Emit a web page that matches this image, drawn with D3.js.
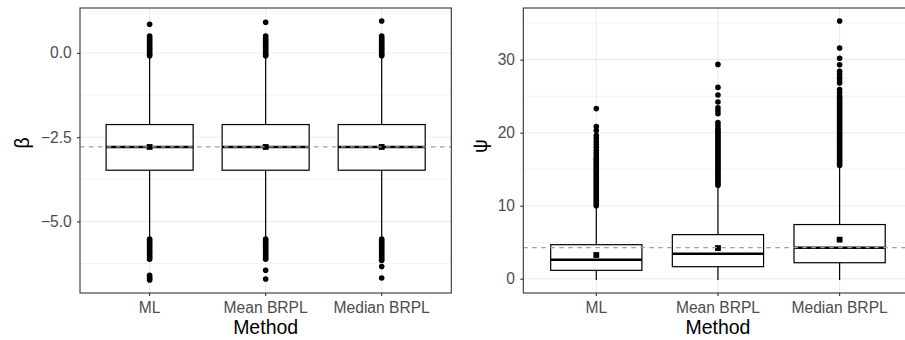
<!DOCTYPE html>
<html>
<head>
<meta charset="utf-8">
<script src="https://cdn.jsdelivr.net/npm/d3@7"></script>
<style>
  body { margin: 0; background: #fff; }
  svg { display: block; font-family: "Liberation Sans", Arial, Helvetica, sans-serif; }
</style>
</head>
<body>
<svg id="chart" width="905" height="340"></svg>
<script>
// Estimation methods compared in both panels
const methods = ["ML", "Mean BRPL", "Median BRPL"];

// beta: five-number box summaries, means and reference value
const betaLowWhisker = [-5.49, -5.49, -5.49];
const betaQ1 = [-3.48, -3.48, -3.48];
const betaMedian = [-2.79, -2.79, -2.79];
const betaQ3 = [-2.125, -2.125, -2.125];
const betaHighWhisker = [-0.1, -0.1, -0.1];
const betaMean = [-2.79, -2.79, -2.79];
const betaTrue = -2.79;

// beta outliers per method
const betaOutML = [0.85, 0.5, 0.45, 0.4, 0.35, 0.3, 0.25, 0.2, 0.15, 0.1, 0.05, 0.0, -0.05, -0.08,
  -5.52, -5.57, -5.62, -5.67, -5.72, -5.77, -5.82, -5.87, -5.92, -5.97, -6.02, -6.07, -6.12,
  -6.6, -6.65, -6.7, -6.74];
const betaOutMean = [0.91, 0.5, 0.45, 0.4, 0.35, 0.3, 0.25, 0.2, 0.15, 0.1, 0.05, 0.0, -0.05, -0.08,
  -5.52, -5.57, -5.62, -5.67, -5.72, -5.77, -5.82, -5.87, -5.92, -5.97, -6.02, -6.07, -6.12,
  -6.45, -6.71];
const betaOutMedian = [0.95, 0.5, 0.45, 0.4, 0.35, 0.3, 0.25, 0.2, 0.15, 0.1, 0.05, 0.0, -0.05, -0.08,
  -5.52, -5.57, -5.62, -5.67, -5.72, -5.77, -5.82, -5.87, -5.92, -5.97, -6.02, -6.07, -6.12, -6.16,
  -6.34, -6.68];
const betaTicks = [-5, -2.5, 0];
const betaTickLabels = ["\u22125.0", "\u22122.5", "0.0"];
const betaMinor = [-6.25, -3.75, -1.25, 1.25];

// psi: five-number box summaries, means and reference value
const psiLowWhisker = [-0.18, -0.18, -0.18];
const psiQ1 = [1.15, 1.65, 2.19];
const psiMedian = [2.6, 3.43, 4.25];
const psiQ3 = [4.66, 6.04, 7.42];
const psiHighWhisker = [9.9, 12.6, 15.3];
const psiMean = [3.25, 4.2, 5.35];
const psiTrue = 4.25;

// psi outliers per method
const psiOutML = [23.3, 20.85, 20.3, 19.6, 19.2, 18.8, 18.4, 18.0, 17.6, 17.2, 16.8, 16.5,
  16.25, 16.0, 15.75, 15.5, 15.25, 15.0, 14.75, 14.5, 14.25, 14.0, 13.75, 13.5, 13.25, 13.0,
  12.75, 12.5, 12.25, 12.0, 11.75, 11.5, 11.25, 11.0, 10.75, 10.5, 10.25, 10.0];
const psiOutMean = [29.35, 26.2, 25.15, 24.2, 23.4, 23.0, 22.6, 21.4, 21.0, 20.6, 20.3,
  20.05, 19.8, 19.55, 19.3, 19.05, 18.8, 18.55, 18.3, 18.05, 17.8, 17.55, 17.3, 17.05, 16.8,
  16.55, 16.3, 16.05, 15.8, 15.55, 15.3, 15.05, 14.8, 14.55, 14.3, 14.05, 13.8, 13.55, 13.3,
  13.05, 12.8];
const psiOutMedian = [35.3, 31.6, 30.2, 29.3, 28.4, 28.0, 27.6, 27.2, 26.8, 25.9, 25.5, 25.0,
  24.75, 24.5, 24.25, 24.0, 23.75, 23.5, 23.25, 23.0, 22.75, 22.5, 22.25, 22.0, 21.75, 21.5,
  21.25, 21.0, 20.75, 20.5, 20.25, 20.0, 19.75, 19.5, 19.25, 19.0, 18.75, 18.5, 18.25, 18.0,
  17.75, 17.5, 17.25, 17.0, 16.75, 16.5, 16.25, 16.0, 15.75, 15.5];
const psiTicks = [0, 10, 20, 30];
const psiTickLabels = ["0", "10", "20", "30"];
const psiMinor = [5, 15, 25, 35];

const svg = d3.select("#chart");
const panelTop = 8, panelBottom = 293;

function panel(cfg) {
  const allVals = [].concat(cfg.low, cfg.high, ...cfg.outliers);
  const [mn, mx] = d3.extent(allVals);
  const pad = (mx - mn) * 0.05;

  const x = d3.scaleBand().domain(methods).range([cfg.left, cfg.right])
    .paddingInner(0).paddingOuter(0.1);
  const y = d3.scaleLinear().domain([mn - pad, mx + pad]).range([panelBottom, panelTop]);
  const cx = m => x(m) + x.bandwidth() / 2;
  const bw = x.bandwidth() * 0.75;

  const g = svg.append("g");
  g.append("rect").attr("x", cfg.left).attr("y", panelTop)
    .attr("width", cfg.right - cfg.left).attr("height", panelBottom - panelTop).attr("fill", "#fff");

  // grid: minor then major
  g.append("g").selectAll("line").data(cfg.minor).join("line")
    .attr("x1", cfg.left).attr("x2", cfg.right)
    .attr("y1", d => y(d)).attr("y2", d => y(d))
    .attr("stroke", "#ebebeb").attr("stroke-width", 0.6);
  g.append("g").selectAll("line").data(cfg.ticks).join("line")
    .attr("x1", cfg.left).attr("x2", cfg.right)
    .attr("y1", d => y(d)).attr("y2", d => y(d))
    .attr("stroke", "#ebebeb").attr("stroke-width", 1.1);
  g.append("g").selectAll("line").data(methods).join("line")
    .attr("x1", d => cx(d)).attr("x2", d => cx(d))
    .attr("y1", panelTop).attr("y2", panelBottom)
    .attr("stroke", "#ebebeb").attr("stroke-width", 1.1);

  methods.forEach((m, i) => {
    const c = cx(m);
    // outliers
    g.append("g").selectAll("circle").data(cfg.outliers[i]).join("circle")
      .attr("cx", c).attr("cy", d => y(d)).attr("r", 2.8).attr("fill", "#000");
    // whiskers
    g.append("line").attr("x1", c).attr("x2", c)
      .attr("y1", y(cfg.q3[i])).attr("y2", y(cfg.high[i]))
      .attr("stroke", "#000").attr("stroke-width", 1.2);
    g.append("line").attr("x1", c).attr("x2", c)
      .attr("y1", y(cfg.q1[i])).attr("y2", y(cfg.low[i]))
      .attr("stroke", "#000").attr("stroke-width", 1.2);
    // box
    g.append("rect").attr("x", c - bw / 2).attr("y", y(cfg.q3[i]))
      .attr("width", bw).attr("height", y(cfg.q1[i]) - y(cfg.q3[i]))
      .attr("fill", "#fff").attr("stroke", "#000").attr("stroke-width", 1.2);
    g.append("line").attr("x1", c - bw / 2).attr("x2", c + bw / 2)
      .attr("y1", y(cfg.median[i])).attr("y2", y(cfg.median[i]))
      .attr("stroke", "#000").attr("stroke-width", 2.4);
    // mean marker
    g.append("rect").attr("x", c - 2.9).attr("y", y(cfg.mean[i]) - 2.9)
      .attr("width", 5.8).attr("height", 5.8).attr("fill", "#000");
  });

  // reference value
  g.append("line").attr("x1", cfg.left).attr("x2", cfg.right)
    .attr("y1", y(cfg.truth)).attr("y2", y(cfg.truth))
    .attr("stroke", "#a0a0a0").attr("stroke-width", 1.2).attr("stroke-dasharray", "4.5,4.5");

  // panel border
  g.append("rect").attr("x", cfg.left).attr("y", panelTop)
    .attr("width", cfg.right - cfg.left).attr("height", panelBottom - panelTop)
    .attr("fill", "none").attr("stroke", "#333333").attr("stroke-width", 1.1);

  // axes
  const ax = g.append("g").attr("transform", `translate(0,${panelBottom})`)
    .call(d3.axisBottom(x).tickSize(3).tickPadding(6));
  const ay = g.append("g").attr("transform", `translate(${cfg.left},0)`)
    .call(d3.axisLeft(y).tickValues(cfg.ticks).tickSize(3).tickPadding(5.3)
      .tickFormat((d, i) => cfg.tickLabels[i]));
  [ax, ay].forEach(a => {
    a.select(".domain").remove();
    a.selectAll(".tick line").attr("stroke", "#333333").attr("stroke-width", 1.1);
    a.selectAll(".tick text").attr("fill", "#4d4d4d").style("font-size", "15.6px")
      .style("font-family", "'Liberation Sans', Arial, sans-serif");
  });

  // axis titles
  g.append("text").attr("x", (cfg.left + cfg.right) / 2).attr("y", 334)
    .attr("text-anchor", "middle").style("font-size", "19.5px").attr("fill", "#000")
    .text("Method");
  g.append("text")
    .attr("transform", `translate(${cfg.titleX},${cfg.titleY}) rotate(-90)`)
    .attr("text-anchor", "middle").attr("dy", "0.35em")
    .style("font-size", "19.5px").attr("fill", "#000").text(cfg.title);
}

panel({
  left: 80, right: 451.3, title: "\u03b2", titleX: 22, titleY: 143,
  low: betaLowWhisker, q1: betaQ1, median: betaMedian, q3: betaQ3, high: betaHighWhisker,
  mean: betaMean, truth: betaTrue,
  outliers: [betaOutML, betaOutMean, betaOutMedian],
  ticks: betaTicks, tickLabels: betaTickLabels, minor: betaMinor
});

panel({
  left: 523.3, right: 912.6, title: "\u03c8", titleX: 480, titleY: 146,
  low: psiLowWhisker, q1: psiQ1, median: psiMedian, q3: psiQ3, high: psiHighWhisker,
  mean: psiMean, truth: psiTrue,
  outliers: [psiOutML, psiOutMean, psiOutMedian],
  ticks: psiTicks, tickLabels: psiTickLabels, minor: psiMinor
});
</script>
</body>
</html>
